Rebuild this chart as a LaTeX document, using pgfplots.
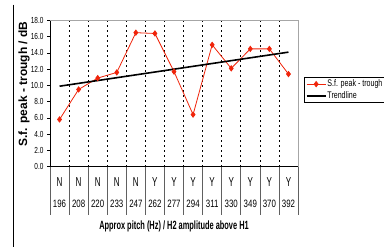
\documentclass[border=0pt]{standalone}
\usepackage{pgfplots}
\pgfplotsset{compat=1.18}
\usepackage{fontspec}
\setmainfont{Liberation Sans}
\newfontfamily\nA[FakeStretch=0.74]{Liberation Sans}
\newfontfamily\nB[FakeStretch=0.62]{Liberation Sans}
\definecolor{sfred}{RGB}{240,36,10}
\newcommand\cl[2]{{\fontsize{13}{14}\selectfont\nB #1}\\[8bp]{\nA #2}}
\begin{document}
\begin{tikzpicture}[x=1bp,y=1bp]
\draw[black, line width=0.8bp] (13,-4.7) -- (13,-247);
\begin{axis}[
  at={(50bp,-166.5bp)}, anchor=south west,
  scale only axis, width=248bp, height=146bp,
  xmin=-0.5, xmax=12.5, ymin=0, ymax=18,
  tick pos=left, tick align=outside,
  major tick length=3bp,
  ytick={0,2,...,18},
  yticklabel style={font=\fontsize{8.8}{10}\selectfont\nA, /pgf/number format/.cd, fixed, fixed zerofill, precision=1, assume math mode=true},
  ytick style={black, line width=0.6bp},
  xtick={0,...,12},
  xticklabels={\cl{N}{196},\cl{N}{208},\cl{N}{220},\cl{N}{233},\cl{N}{247},\cl{Y}{262},\cl{Y}{277},\cl{Y}{294},\cl{Y}{311},\cl{Y}{330},\cl{Y}{349},\cl{Y}{370},\cl{Y}{392}},
  xticklabel style={align=center, font=\fontsize{10.7}{13}\selectfont, anchor=north, inner sep=0pt, yshift=-8bp},
  major x tick style={draw=none},
  minor xtick={-0.5,0.5,...,12.5},
  minor tick length=48bp,
  minor x tick style={draw=gray!75!black, line width=0.6bp},
  extra x ticks={0.5,1.5,...,11.5},
  extra x tick labels={},
  extra x tick style={xmajorgrids=true, major grid style={black, line width=0.6bp, dash pattern=on 2bp off 3bp}},
  axis line style={gray!70, line width=0.6bp},
  xlabel={Approx pitch (Hz) / H2 amplitude above H1},
  xlabel style={font=\fontsize{12}{14}\selectfont\nB\bfseries, at={(axis description cs:0.5,-0.411)}, anchor=center},
  ylabel={S.f. peak - trough / dB},
  ylabel style={font=\fontsize{12}{14}\selectfont\bfseries, at={(axis description cs:-0.105,0.565)}, anchor=center},
  legend style={at={(rel axis cs:1.024,0.613)}, anchor=north west, draw=black, line width=0.8bp, font=\fontsize{9.6}{11.5}\selectfont\nA, inner sep=1.5bp, row sep=1.5bp, nodes={inner sep=1bp}},
  legend cell align=left,
  legend image code/.code={\draw[mark repeat=2,mark phase=2,#1] plot coordinates {(0bp,0bp)(9.5bp,0bp)(19bp,0bp)};},
]
\addplot[sfred, line width=0.8bp, mark=diamond*, mark size=2.6bp, mark options={solid}] coordinates {(0,5.8)(1,9.5)(2,10.9)(3,11.6)(4,16.5)(5,16.4)(6,11.7)(7,6.4)(8,15.0)(9,12.1)(10,14.5)(11,14.5)(12,11.4)};
\addlegendentry{S.f. peak - trough}
\addplot[black, line width=1.6bp] coordinates {(0,9.9)(12,14.1)};
\addlegendentry{Trendline}
\draw[black, line width=0.7bp] (rel axis cs:0,0) -- (rel axis cs:0,1);
\draw[black, line width=1.3bp] (rel axis cs:0,0) -- (rel axis cs:1,0);
\end{axis}
\pgfresetboundingbox
\path (0,0) rectangle (384,-247);
\end{tikzpicture}
\end{document}
